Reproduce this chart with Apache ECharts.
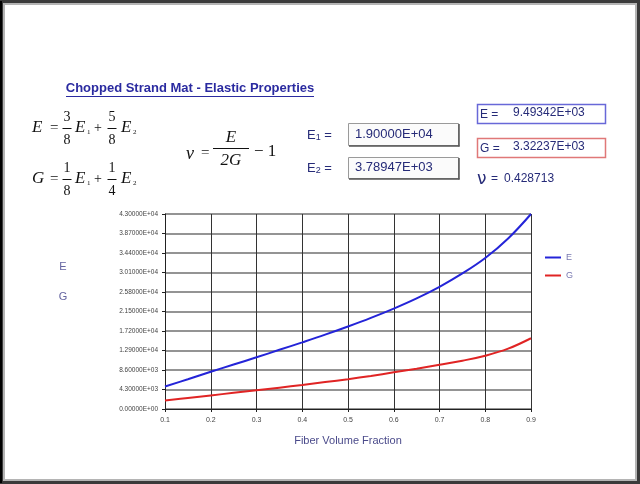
<!DOCTYPE html>
<html><head><meta charset="utf-8">
<script src="https://cdn.jsdelivr.net/npm/echarts@6/dist/echarts.min.js"></script>
<style>html,body{margin:0;padding:0;background:#fff}#c{width:640px;height:484px}</style>
</head><body><div id="c"></div>
<script>
// ---- data ----
const fiberVolumeFraction = [0.1,0.15,0.2,0.25,0.3,0.35,0.4,0.45,0.5,0.55,0.6,0.65,0.7,0.75,0.8,0.85,0.9];
const modulusE = [4960,6550,8200,9800,11400,13050,14700,16400,18200,20100,22150,24400,26950,29900,33300,37600,43000];
const modulusG = [1880,2430,3000,3560,4120,4700,5300,5930,6580,7300,8080,8880,9750,10650,11750,13300,15600];
const seriesNames = ['E','G'];
const yMax = 43000, yStep = 4300;
const xMin = 0.1, xMax = 0.9, xStep = 0.1;
const titleText = 'Chopped Strand Mat - Elastic Properties';
const inputE1 = '1.90000E+04', inputE2 = '3.78947E+03';
const outE = '9.49342E+03', outG = '3.32237E+03', outNu = '0.428713';
const xAxisTitle = 'Fiber Volume Fraction';

function sci(v){
  if (v === 0) return '0.00000E+00';
  const s = v.toExponential(5).split('e');
  const e = parseInt(s[1],10);
  return s[0] + 'E' + (e<0?'-':'+') + String(Math.abs(e)).padStart(2,'0');
}
const navy = '#262b78';
const serif = '"Liberation Serif","Times New Roman",serif';
const sans = '"Liberation Sans",Arial,sans-serif';

function T(x,y,text,opt){
  opt = opt||{};
  return {type:'text', x:x, y:y, silent:true, style:Object.assign({text:text, fill:opt.fill||navy,
    font:(opt.style||'')+' '+(opt.weight||'normal')+' '+(opt.size||13)+'px '+(opt.family||sans),
    textAlign:opt.align||'left', textVerticalAlign:'middle'}, opt.extra||{})};
}
function L(x1,y1,x2,y2,c,w){ return {type:'line', silent:true, shape:{x1:x1,y1:y1,x2:x2,y2:y2}, style:{stroke:c||'#000', lineWidth:w||1}}; }
function frac(cx,cy,num,den,w,size){
  return [T(cx,cy-11,num,{family:serif,size:size,align:'center',fill:'#111'}),
          L(cx-w/2,cy+0.5,cx+w/2,cy+0.5,'#111',1),
          T(cx,cy+12,den,{family:serif,size:size,align:'center',fill:'#111'})];
}
function eqRow(cy, lhs, n1,d1,n2,d2){
  const it = {family:serif,size:17,style:'italic',fill:'#111'};
  return [].concat(
    [T(32,cy,lhs,it), T(50,cy,'=',{family:serif,size:15,fill:'#111'})],
    frac(67,cy,n1,d1,9,14),
    [T(75,cy,'E',it), T(87,cy+4,'1',{family:serif,size:7,fill:'#111'}), T(94,cy,'+',{family:serif,size:14,fill:'#111'})],
    frac(112,cy,n2,d2,9,14),
    [T(121,cy,'E',it), T(133,cy+4,'2',{family:serif,size:7,fill:'#111'})]
  );
}
function inBox(x,y,w,h){
  return [{type:'rect', silent:true, shape:{x:x+0.5,y:y+0.5,width:w,height:h}, style:{fill:'#fbfbfb', stroke:'#9a9a9a', lineWidth:1}},
    L(x+w+1,y+1,x+w+1,y+h+1.5,'#555',1.5), L(x+1,y+h+1,x+w+1.5,y+h+1,'#555',1.5)];
}

const graphics = [].concat(
  [{type:'rect', silent:true, shape:{x:1.5,y:1.5,width:637,height:481}, style:{fill:null, stroke:'#3a3a3a', lineWidth:3}},
   {type:'rect', silent:true, shape:{x:4,y:4,width:632,height:476}, style:{fill:null, stroke:'#b4b4b4', lineWidth:2}},
   L(1,1,1,483,'#000',2),
   T(190,88,titleText,{weight:'bold',size:13,align:'center',fill:'#2a2aa0'}),
   L(66,96.5,314,96.5,'#2a2aa0',1)],
  eqRow(128,'E','3','8','5','8'),
  eqRow(179,'G','1','8','1','4'),
  [T(186,154,'ν',{family:serif,size:18,style:'italic',fill:'#111'}),
   T(201,153,'=',{family:serif,size:15,fill:'#111'}),
   T(231,138,'E',{family:serif,size:17,style:'italic',fill:'#111',align:'center'}),
   L(213,148.5,249,148.5,'#111',1),
   T(231,161,'2G',{family:serif,size:17,style:'italic',fill:'#111',align:'center'}),
   T(254,152,'− 1',{family:serif,size:17,fill:'#111'})],
  inBox(348,123,110,22), inBox(348,157,110,21),
  [{type:'text', x:307, y:135, silent:true, style:{text:'{a|E}{s|1}{a| =}', rich:{a:{font:'13px '+sans, fill:navy}, s:{font:'9px '+sans, fill:navy, padding:[6,0,0,0]}}, textVerticalAlign:'middle'}},
   {type:'text', x:307, y:168, silent:true, style:{text:'{a|E}{s|2}{a| =}', rich:{a:{font:'13px '+sans, fill:navy}, s:{font:'9px '+sans, fill:navy, padding:[6,0,0,0]}}, textVerticalAlign:'middle'}},
   T(355,134,inputE1,{size:13}), T(355,167,inputE2,{size:13}),
   {type:'rect', silent:true, shape:{x:477.5,y:104.5,width:128,height:19}, style:{fill:null, stroke:'#6868d8', lineWidth:1.5}},
   {type:'rect', silent:true, shape:{x:477.5,y:138.5,width:128,height:19}, style:{fill:null, stroke:'#e07878', lineWidth:1.5}},
   T(480,115,'E =',{size:12}), T(513,113,outE,{size:12}),
   T(480,149,'G =',{size:12}), T(513,147,outG,{size:12}),
   T(477,180,'ν',{size:17,family:'"DejaVu Sans",sans-serif'}), T(491,179,'= ',{size:12}), T(504,179,outNu,{size:12}),
   T(63,267,'E',{size:11,fill:'#6464a0',align:'center'}),
   T(63,297,'G',{size:11,fill:'#6464a0',align:'center'}),
   T(348,441,xAxisTitle,{size:11,fill:'#4a4a8a',align:'center'})]
);

const chart = echarts.init(document.getElementById('c'), null, {renderer:'canvas'});
chart.setOption({
  animation:false,
  backgroundColor:'#fff',
  grid:{left:165, right:109, top:214, bottom:75, containLabel:false},
  legend:{data:seriesNames, orient:'vertical', left:540, top:248, itemWidth:16, itemHeight:2, itemGap:9, icon:'rect',
    textStyle:{fontSize:9, color:'#7878b0', fontFamily:sans}},
  xAxis:{type:'value', min:xMin, max:xMax, interval:xStep,
    axisLine:{show:true, lineStyle:{color:'#222'}}, axisTick:{show:true, length:3, lineStyle:{color:'#222'}},
    axisLabel:{fontSize:7, color:'#444', margin:8, fontFamily:sans, formatter:v=>v.toFixed(1)},
    splitLine:{show:true, lineStyle:{color:'#333', width:1}}},
  yAxis:{type:'value', min:0, max:yMax, interval:yStep,
    axisLine:{show:true, lineStyle:{color:'#222'}}, axisTick:{show:true, length:3, lineStyle:{color:'#222'}},
    axisLabel:{fontSize:6.5, color:'#444', margin:7, fontFamily:sans, formatter:sci},
    splitLine:{show:true, lineStyle:{color:'#707070', width:1.5}}},
  series:[
    {name:seriesNames[0], type:'line', smooth:0.4, showSymbol:false, color:'#2424d8', lineStyle:{width:2, color:'#2424d8'},
     data:fiberVolumeFraction.map((x,i)=>[x, modulusE[i]])},
    {name:seriesNames[1], type:'line', smooth:0.4, showSymbol:false, color:'#e02424', lineStyle:{width:2, color:'#e02424'},
     data:fiberVolumeFraction.map((x,i)=>[x, modulusG[i]])}
  ],
  graphic:graphics
});
</script></body></html>
